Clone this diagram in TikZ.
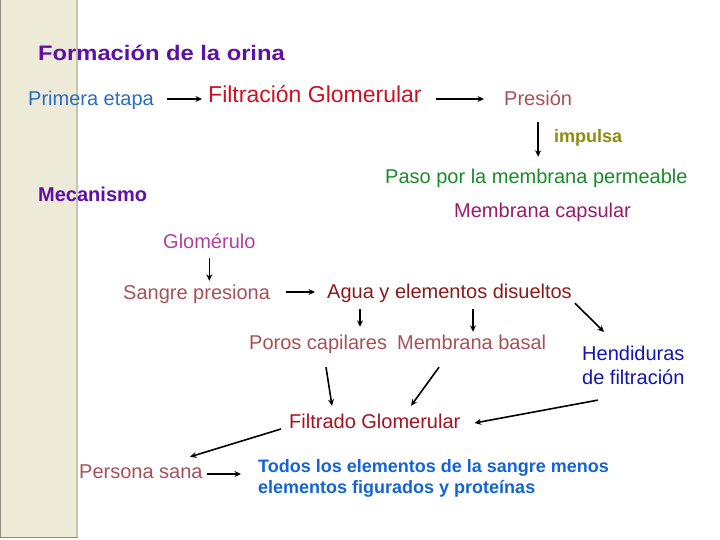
\documentclass[tikz,border=0pt]{standalone}
\usepackage{fontspec}
\setmainfont{Liberation Sans}
\usetikzlibrary{arrows.meta,calc}
\definecolor{franja}{HTML}{EDEBD8}
\definecolor{franjaborde}{HTML}{C6C4B2}
\definecolor{franjaosc}{HTML}{8E8C7C}
\definecolor{morado}{HTML}{5C10A6}
\definecolor{azuletapa}{HTML}{2B6CC4}
\definecolor{rojofilt}{HTML}{CC1122}
\definecolor{rosaviejo}{HTML}{A8505A}
\definecolor{oliva}{HTML}{8C8C10}
\definecolor{verdepaso}{HTML}{1A8A2A}
\definecolor{magentacap}{HTML}{9A1A6A}
\definecolor{magentaglom}{HTML}{B040A0}
\definecolor{rojoagua}{HTML}{8B1A1A}
\definecolor{rojofiltrado}{HTML}{A8101E}
\definecolor{azulhend}{HTML}{1414B0}
\definecolor{azultodos}{HTML}{1464D8}

\begin{document}
\begin{tikzpicture}[
    x=1pt, y=-1pt,
    font=\fontsize{20}{24}\selectfont,
    txt/.style={inner sep=0pt, anchor=base west, text height=18pt, text depth=4pt},
    heading/.style={txt, font=\fontsize{20}{24}\selectfont\bfseries, text=morado},
    block/.style={inner sep=0pt, anchor=north west, align=left},
    arrow/.style={-{Stealth[length=6.5pt,width=6pt]}, line width=1.6pt}
  ]
    \useasboundingbox (0,0) rectangle (720,540);
    \fill[franja] (0,0) rectangle (78,538);
    \draw[franjaborde, line width=2pt] (77,0) -- (77,538);
    \draw[franjaosc] (0.5,0) -- (0.5,537.5) -- (78,537.5);

    \node[heading, font=\fontsize{21}{24}\selectfont\bfseries\addfontfeature{FakeStretch=1.13}] (titulo) at (38,61) {Formación de la orina};
    \node[txt, text=azuletapa] (primera) at (28,106) {Primera etapa};
    \node[txt, text=rojofilt, font=\fontsize{23}{26}\selectfont] (filtracion) at (208,103) {Filtración Glomerular};
    \node[txt, text=rosaviejo] (presion) at (504,106) {Presión};
    \node[txt, text=oliva, font=\fontsize{18}{22}\selectfont\bfseries] (impulsa) at (554,143) {impulsa};
    \node[txt, text=verdepaso] (paso) at (385,184) {Paso por la membrana permeable};
    \node[txt, text=magentacap] (capsular) at (454,218) {Membrana capsular};
    \node[heading] (mecanismo) at (38,202) {Mecanismo};

    \node[txt, text=magentaglom] (glomerulo) at (163,248) {Glomérulo};
    \node[txt, text=rosaviejo] (sangre) at (123,299) {Sangre presiona};
    \node[txt, text=rojoagua] (agua) at (327,298) {Agua y elementos disueltos};
    \node[txt, text=rosaviejo] (poros) at (249,349) {Poros capilares};
    \node[txt, text=rosaviejo] (basal) at (397,349) {Membrana basal};
    \node[block, text=azulhend] (hendiduras) at (582,346) {Hendiduras\\de filtración};
    \node[txt, text=rojofiltrado] (filtrado) at (289,428) {Filtrado Glomerular};
    \node[txt, text=rosaviejo] (persona) at (79,478) {Persona sana};
    \node[block, text=azultodos, font=\fontsize{18}{21.5}\selectfont\bfseries] (todos) at (258,459) {Todos los elementos de la sangre menos\\elementos figurados y proteínas};

    \draw[arrow, shorten <=13pt, shorten >=6pt] (primera.east) -- (primera.east -| filtracion.west);
    \draw[arrow, shorten <=14pt, shorten >=20pt] (presion.west -| filtracion.east) -- (presion.west);
    \draw[arrow, shorten <=12pt, shorten >=9pt] (presion.south) -- (presion.south |- paso.north);
    \draw[arrow, shorten <=6pt] (glomerulo.south) -- (glomerulo.south |- sangre.north);
    \draw[arrow, shorten <=16pt, shorten >=12pt] (sangre.east) -- (sangre.east -| agua.west);
    \draw[arrow] ($(agua.south west)+(33,7)$) -- ($(poros.north west)+(111,-4)$);
    \draw[arrow] ($(agua.south west)+(146,7)$) -- ($(basal.north west)+(76,1)$);
    \draw[arrow] ($(agua.south east)+(3,1)$) -- ($(hendiduras.north west)+(22,-14)$);
    \draw[arrow] ($(poros.south west)+(77,14)$) -- ($(filtrado.north west)+(43,-4)$);
    \draw[arrow] ($(basal.south west)+(42,14)$) -- ($(filtrado.north west)+(122,-4)$);
    \draw[arrow] ($(hendiduras.south west)+(16,15)$) -- ($(filtrado.east)+(14,2)$);
    \draw[arrow] ($(filtrado.west)+(-8,8)$) -- ($(persona.north west)+(111,-3)$);
    \draw[arrow] ($(persona.east)+(4,3)$) -- ($(todos.north west)+(-17,15)$);
  \end{tikzpicture}
\end{document}
